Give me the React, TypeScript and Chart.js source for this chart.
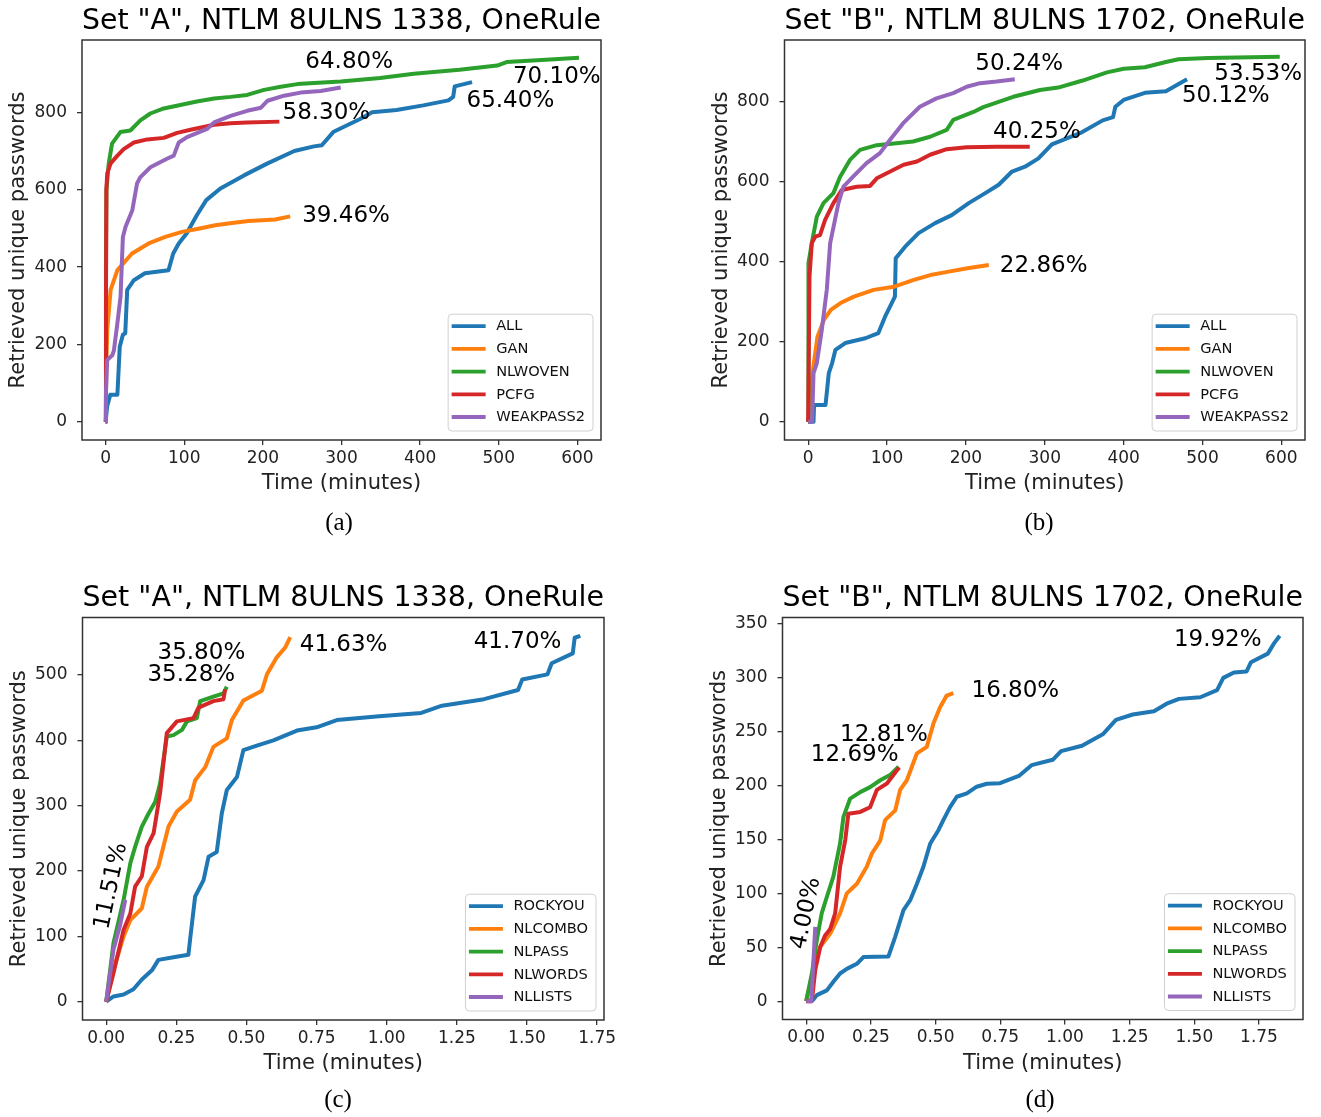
import React, { useEffect, useRef } from "react";
import { Chart, registerables } from "chart.js";

Chart.register(...registerables);

const FONT = "'DejaVu Sans', 'Noto Sans', sans-serif";
const BLUE = "#1f77b4";
const ORANGE = "#ff7f0e";
const GREEN = "#2ca02c";
const RED = "#d62728";
const PURPLE = "#9467bd";

type Pt = [number, number];

// ---------- Panel (a): Set "A", minutes ----------
const A_ALL: Pt[] = [[0,0],[2,40],[6,70],[15,70],[18,194],[22,225],[25,229],[27.5,341],[36,366],[50,384],[80,392],[86,435],[93,461],[103,487],[116,534],[128,573],[146,603],[176,637],[206,668],[240,700],[265,712],[275,715],[290,750],[323,782],[339,800],[370,806],[404,818],[436,831],[442,840],[444,867],[466,878]];
const A_GAN: Pt[] = [[0,0],[1,150],[2.1,237],[6.4,341],[15,392],[33.6,435],[54.7,461],[75.9,478],[97,491],[118,499],[139.5,508],[160.6,514],[181.7,519],[215.6,523],[234.7,531]];
const A_NLWOVEN: Pt[] = [[0,0],[0.5,420],[1.1,600],[4,668],[8.2,719],[18.8,749],[31.5,753],[44.2,779],[56.9,797],[73.9,810],[95,819],[116,828],[138,836],[159,840],[180,845],[201.5,858],[222.7,866],[243.9,873],[265,876],[299,880],[349,889],[392,900],[450,910],[498,921],[510,930],[560,936],[602,941]];
const A_PCFG: Pt[] = [[0,0],[0.5,300],[1,600],[2.1,642],[6.4,668],[15,688],[23,705],[36,722],[53,730],[74,734],[91,747],[108,755],[138,768],[159,772],[180,774],[221,776]];
const A_WEAKPASS2: Pt[] = [[0,0],[0.5,77],[2,160],[8.5,172],[10.6,185],[15,255],[19,323],[22,478],[25.4,504],[34,547],[40,616],[44,632],[57,658],[78,680],[86.7,688],[93,722],[103.6,736],[129,757],[138,774],[159,791],[180,804],[197.6,812],[206,830],[227,843],[248,851],[273.5,855],[299,864]];
const A_LABELS = ["ALL", "GAN", "NLWOVEN", "PCFG", "WEAKPASS2"];
const A_NOTES = [
  { text: "64.80%", x: 254, y: 929 },
  { text: "70.10%", x: 518, y: 890 },
  { text: "65.40%", x: 459, y: 828 },
  { text: "58.30%", x: 225, y: 797 },
  { text: "39.46%", x: 250, y: 532 },
];

// ---------- Panel (b): Set "B", minutes ----------
const B_ALL: Pt[] = [[0,0],[6.8,0],[7.5,42],[22,42],[26.2,122],[30.4,147],[34.6,180],[47,197],[72.5,209],[89,222],[97.5,263],[110,313],[111,409],[123,438],[140,472],[161,497],[182,517],[203.6,547],[224.6,572],[241.6,593],[258.5,626],[275,638],[292,659],[309,694],[347,724],[373.5,754],[386.6,762],[389.5,788],[400,805],[427,823],[453.6,827],[480.4,857]];
const B_GAN: Pt[] = [[0,0],[5.5,122],[11.8,213],[20,255],[28.7,280],[41,297],[58,313],[83,330],[109,338],[134,355],[155,367],[176.6,375],[201.9,384],[229,392]];
const B_NLWOVEN: Pt[] = [[0,0],[0.4,397],[4.6,447],[11,513],[19.4,547],[32,572],[40.5,613],[53,655],[65.8,680],[87,692],[112,697],[133,701],[154.6,713],[175.7,730],[184,755],[209.6,775],[222,787],[260,813],[294,830],[317,836],[347,853],[379,874],[400,883],[427,887],[453.6,900],[469.6,907],[507,910],[598,913]];
const B_PCFG: Pt[] = [[0,0],[1.7,363],[4.6,447],[8.9,463],[15,467],[21.5,505],[32,547],[42.7,580],[61.6,588],[78.5,590],[87,609],[104,626],[121,643],[138,651],[154.6,668],[175.7,682],[201,687],[239,688],[281,688]];
const B_WEAKPASS2: Pt[] = [[0,0],[5,0],[6.8,122],[11,147],[17.3,230],[23.6,330],[27.9,447],[38.4,547],[44.7,588],[57,613],[74,647],[91,672],[103.6,705],[120.5,747],[141.6,788],[162.7,809],[184,822],[201,838],[218,847],[239,851],[262,857]];
const B_NOTES = [
  { text: "50.24%", x: 212, y: 896 },
  { text: "53.53%", x: 515, y: 870 },
  { text: "50.12%", x: 474, y: 815 },
  { text: "40.25%", x: 234.5, y: 724 },
  { text: "22.86%", x: 243, y: 390 },
];

// ---------- Panel (c): Set "A", fractions of a minute ----------
const C_ROCKYOU: Pt[] = [[0,0],[0.026,8],[0.062,11],[0.097,19],[0.127,34],[0.163,48],[0.186,64],[0.24,68],[0.293,72],[0.299,95],[0.317,161],[0.347,186],[0.365,222],[0.394,229],[0.412,288],[0.43,324],[0.466,344],[0.489,385],[0.537,392],[0.596,400],[0.68,415],[0.75,420],[0.822,431],[0.973,437],[1.123,442],[1.197,453],[1.347,463],[1.468,477],[1.483,493],[1.573,501],[1.588,518],[1.663,533],[1.67,557],[1.69,560]];
const C_NLCOMBO: Pt[] = [[0,0],[0.026,49],[0.062,100],[0.086,125],[0.127,143],[0.145,176],[0.186,207],[0.222,268],[0.252,291],[0.299,309],[0.317,339],[0.353,359],[0.382,390],[0.43,403],[0.448,431],[0.489,461],[0.555,476],[0.573,501],[0.608,527],[0.638,542],[0.656,558]];
const C_NLPASS: Pt[] = [[0,0],[0.026,90],[0.062,156],[0.086,212],[0.103,237],[0.127,268],[0.151,288],[0.175,306],[0.192,334],[0.216,406],[0.24,408],[0.27,416],[0.288,429],[0.323,434],[0.335,460],[0.382,467],[0.418,472],[0.43,482]];
const C_NLWORDS: Pt[] = [[0,0],[0.026,44],[0.062,110],[0.086,135],[0.103,176],[0.127,192],[0.145,237],[0.169,258],[0.192,319],[0.216,411],[0.252,429],[0.311,434],[0.329,450],[0.382,460],[0.418,463],[0.424,478]];
const C_NLLISTS: Pt[] = [[0,0],[0.026,80],[0.05,118],[0.068,156]];
const CD_LABELS = ["ROCKYOU", "NLCOMBO", "NLPASS", "NLWORDS", "NLLISTS"];
const C_NOTES = [
  { text: "35.80%", x: 0.183, y: 533 },
  { text: "35.28%", x: 0.147, y: 500 },
  { text: "41.63%", x: 0.69, y: 546 },
  { text: "41.70%", x: 1.31, y: 551 },
  { text: "11.51%", x: 0.018, y: 177, angle: 78 },
];

// ---------- Panel (d): Set "B", fractions of a minute ----------
const D_ROCKYOU: Pt[] = [[0,0],[0.028,1.6],[0.041,5.6],[0.08,10],[0.105,18],[0.131,25.7],[0.157,30],[0.196,34.7],[0.221,40.9],[0.318,41.5],[0.344,59.7],[0.376,84.5],[0.402,93.7],[0.428,109],[0.453,124.7],[0.479,146],[0.511,158.6],[0.53,168],[0.556,180],[0.582,189.7],[0.621,192.8],[0.659,199],[0.698,201.7],[0.749,202.3],[0.822,209],[0.871,219],[0.953,224],[0.985,232],[1.066,237],[1.148,248],[1.197,261],[1.262,266],[1.344,269],[1.393,276],[1.441,280.5],[1.523,282],[1.588,288.6],[1.612,300],[1.653,305],[1.702,306],[1.719,314.5],[1.784,322.5],[1.808,332],[1.83,339]];
const D_NLCOMBO: Pt[] = [[0,0],[0.028,28.8],[0.054,50.4],[0.093,62.8],[0.131,81.4],[0.157,100],[0.196,109],[0.234,124.7],[0.254,137],[0.286,149],[0.305,168],[0.344,177],[0.363,196],[0.389,205],[0.428,230],[0.466,236],[0.492,257.8],[0.518,273],[0.543,283.6],[0.569,285.8]];
const D_NLPASS: Pt[] = [[0,0],[0.022,25.7],[0.041,56.6],[0.06,81.4],[0.08,96.9],[0.105,115.5],[0.131,146.4],[0.144,171],[0.17,188],[0.209,194],[0.247,198.6],[0.286,205],[0.324,209.8],[0.357,217.6]];
const D_NLWORDS: Pt[] = [[0,0],[0.022,0],[0.035,28.8],[0.054,50],[0.073,61],[0.093,67],[0.112,81.4],[0.131,124.7],[0.151,149.5],[0.163,174],[0.209,175.6],[0.247,180],[0.273,196],[0.312,202],[0.35,214],[0.36,216.7]];
const D_NLLISTS: Pt[] = [[0,0],[0.02,0],[0.035,69]];
const D_NOTES = [
  { text: "12.81%", x: 0.131, y: 247 },
  { text: "12.69%", x: 0.018, y: 228 },
  { text: "16.80%", x: 0.639, y: 288 },
  { text: "19.92%", x: 1.421, y: 335 },
  { text: "4.00%", x: 0.0, y: 81.5, angle: 78 },
];

// ---------- ticks ----------
const X_TICKS_MIN = [0, 100, 200, 300, 400, 500, 600];
const X_TICK_LABELS_MIN = ["0", "100", "200", "300", "400", "500", "600"];
const X_TICKS_FRAC = [0, 0.25, 0.5, 0.75, 1.0, 1.25, 1.5, 1.75];
const X_TICK_LABELS_FRAC = ["0.00", "0.25", "0.50", "0.75", "1.00", "1.25", "1.50", "1.75"];
const Y_TICKS_AB = [0, 200, 400, 600, 800];
const Y_TICK_LABELS_AB = ["0", "200", "400", "600", "800"];
const Y_TICKS_C = [0, 100, 200, 300, 400, 500];
const Y_TICK_LABELS_C = ["0", "100", "200", "300", "400", "500"];
const Y_TICKS_D = [0, 50, 100, 150, 200, 250, 300, 350];
const Y_TICK_LABELS_D = ["0", "50", "100", "150", "200", "250", "300", "350"];

const TITLE_A = 'Set "A", NTLM 8ULNS 1338, OneRule';
const TITLE_B = 'Set "B", NTLM 8ULNS 1702, OneRule';
const X_TITLE = "Time (minutes)";
const Y_TITLE = "Retrieved unique passwords";
const COLORS = [BLUE, ORANGE, GREEN, RED, PURPLE];

interface Note { text: string; x: number; y: number; angle?: number }
interface Panel {
  title: string;
  labels: string[];
  series: Pt[][];
  notes: Note[];
  xRange: [number, number];
  yRange: [number, number];
  xTicks: number[];
  xTickLabels: string[];
  yTicks: number[];
  yTickLabels: string[];
  box: { x: number; y: number; w: number; h: number };
  area: { l: number; r: number; t: number; b: number };
  caption: string;
  cap: { x: number; y: number };
}

const PANELS: Panel[] = [
  {
    title: TITLE_A, labels: A_LABELS, series: [A_ALL, A_GAN, A_NLWOVEN, A_PCFG, A_WEAKPASS2], notes: A_NOTES,
    xRange: [-30, 630], yRange: [-47, 987],
    xTicks: X_TICKS_MIN, xTickLabels: X_TICK_LABELS_MIN, yTicks: Y_TICKS_AB, yTickLabels: Y_TICK_LABELS_AB,
    box: { x: 0, y: 0, w: 660, h: 510 }, area: { l: 82, r: 601, t: 40, b: 440 },
    caption: "(a)", cap: { x: 339, y: 521 },
  },
  {
    title: TITLE_B, labels: A_LABELS, series: [B_ALL, B_GAN, B_NLWOVEN, B_PCFG, B_WEAKPASS2], notes: B_NOTES,
    xRange: [-30, 630], yRange: [-45.5, 955],
    xTicks: X_TICKS_MIN, xTickLabels: X_TICK_LABELS_MIN, yTicks: Y_TICKS_AB, yTickLabels: Y_TICK_LABELS_AB,
    box: { x: 660, y: 0, w: 661, h: 510 }, area: { l: 784.5, r: 1305, t: 40, b: 440 },
    caption: "(b)", cap: { x: 1039, y: 521 },
  },
  {
    title: TITLE_A, labels: CD_LABELS, series: [C_ROCKYOU, C_NLCOMBO, C_NLPASS, C_NLWORDS, C_NLLISTS], notes: C_NOTES,
    xRange: [-0.0845, 1.7745], yRange: [-28, 588],
    xTicks: X_TICKS_FRAC, xTickLabels: X_TICK_LABELS_FRAC, yTicks: Y_TICKS_C, yTickLabels: Y_TICK_LABELS_C,
    box: { x: 0, y: 575, w: 660, h: 510 }, area: { l: 82.5, r: 604, t: 617.5, b: 1020 },
    caption: "(c)", cap: { x: 338, y: 1098 },
  },
  {
    title: TITLE_B, labels: CD_LABELS, series: [D_ROCKYOU, D_NLCOMBO, D_NLPASS, D_NLWORDS, D_NLLISTS], notes: D_NOTES,
    xRange: [-0.0915, 1.92], yRange: [-17, 356],
    xTicks: X_TICKS_FRAC, xTickLabels: X_TICK_LABELS_FRAC, yTicks: Y_TICKS_D, yTickLabels: Y_TICK_LABELS_D,
    box: { x: 660, y: 575, w: 661, h: 510 }, area: { l: 782.5, r: 1303, t: 617.5, b: 1019.5 },
    caption: "(d)", cap: { x: 1040, y: 1098 },
  },
];

const Y_W = 78;
const X_H = 60;
const TITLE_H = 40;

function buildConfig(p: Panel): any {
  const pad = {
    left: p.area.l - p.box.x - Y_W,
    right: p.box.x + p.box.w - p.area.r,
    top: p.area.t - p.box.y - TITLE_H,
    bottom: p.box.y + p.box.h - p.area.b - X_H,
  };
  const n = p.series.length;
  const datasets = p.series.map((pts, i) => ({
    label: p.labels[i],
    data: pts.map(([x, y]) => ({ x, y })),
    borderColor: COLORS[i],
    backgroundColor: COLORS[i],
    borderWidth: 4,
    pointRadius: 0,
    pointHoverRadius: 0,
    tension: 0,
    fill: false,
    order: n - i,
    borderJoinStyle: "round",
    borderCapStyle: "butt",
  }));

  const overlay = {
    id: "overlay",
    afterDatasetsDraw(chart: any) {
      const { ctx, chartArea: a } = chart;
      const xs = chart.scales.x;
      const ys = chart.scales.y;
      ctx.save();
      // frame
      ctx.strokeStyle = "#333";
      ctx.lineWidth = 1.5;
      ctx.strokeRect(a.left, a.top, a.right - a.left, a.bottom - a.top);
      // annotations
      ctx.fillStyle = "#000";
      ctx.font = `23px ${FONT}`;
      ctx.textBaseline = "middle";
      for (const nt of p.notes) {
        const px = xs.getPixelForValue(nt.x);
        const py = ys.getPixelForValue(nt.y);
        if (nt.angle) {
          ctx.save();
          ctx.translate(px, py);
          ctx.rotate((-nt.angle * Math.PI) / 180);
          ctx.textAlign = "center";
          ctx.fillText(nt.text, 0, 0);
          ctx.restore();
        } else {
          ctx.textAlign = "left";
          ctx.fillText(nt.text, px, py);
        }
      }
      // legend
      ctx.font = `14.6px ${FONT}`;
      let tw = 0;
      for (const l of p.labels) tw = Math.max(tw, ctx.measureText(l).width);
      const w = 3.5 + 34 + 10.5 + tw + 8;
      const rowH = 22.7;
      const h = 12 + rowH * (p.labels.length - 1) + 14;
      const lx = a.right - 8 - w;
      const ly = a.bottom - 9 - h;
      ctx.beginPath();
      if (ctx.roundRect) ctx.roundRect(lx, ly, w, h, 4);
      else ctx.rect(lx, ly, w, h);
      ctx.fillStyle = "rgba(255,255,255,0.8)";
      ctx.fill();
      ctx.strokeStyle = "#d0d0d0";
      ctx.lineWidth = 1;
      ctx.stroke();
      p.labels.forEach((l, i) => {
        const cy = ly + 12 + i * rowH;
        ctx.beginPath();
        ctx.moveTo(lx + 3.5, cy);
        ctx.lineTo(lx + 37.5, cy);
        ctx.strokeStyle = COLORS[i];
        ctx.lineWidth = 3.8;
        ctx.stroke();
        ctx.fillStyle = "#111";
        ctx.textAlign = "left";
        ctx.textBaseline = "middle";
        ctx.fillText(l, lx + 48, cy + 0.5);
      });
      ctx.restore();
    },
  };

  const tickFont = { family: FONT, size: 17 };
  const gridOpts = {
    display: true,
    drawOnChartArea: false,
    drawTicks: true,
    tickLength: 5,
    color: "#333",
    lineWidth: 1.3,
  };

  return {
    type: "line",
    data: { datasets },
    plugins: [overlay],
    options: {
      animation: false,
      responsive: false,
      maintainAspectRatio: false,
      devicePixelRatio: 1,
      events: [],
      layout: { padding: pad },
      plugins: {
        legend: { display: false },
        tooltip: { enabled: false },
        title: {
          display: true,
          text: p.title,
          color: "#000",
          fullSize: false,
          font: { family: FONT, size: 28.5, weight: "normal", lineHeight: 1.2 },
          padding: { top: 4, bottom: 1.8 },
        },
      },
      scales: {
        x: {
          type: "linear",
          min: p.xRange[0],
          max: p.xRange[1],
          afterBuildTicks: (axis: any) => {
            axis.ticks = p.xTicks.map((v) => ({ value: v }));
          },
          afterFit: (axis: any) => {
            axis.height = X_H;
          },
          ticks: {
            color: "#222",
            font: tickFont,
            padding: 3,
            autoSkip: false,
            maxRotation: 0,
            minRotation: 0,
            callback: (_v: any, i: number) => p.xTickLabels[i],
          },
          grid: gridOpts,
          border: { display: false },
          title: {
            display: true,
            text: X_TITLE,
            color: "#222",
            font: { family: FONT, size: 21, lineHeight: 1.2 },
            padding: { top: 0, bottom: 3.4 },
          },
        },
        y: {
          type: "linear",
          min: p.yRange[0],
          max: p.yRange[1],
          afterBuildTicks: (axis: any) => {
            axis.ticks = p.yTicks.map((v) => ({ value: v }));
          },
          afterFit: (axis: any) => {
            axis.width = Y_W;
          },
          ticks: {
            color: "#222",
            font: tickFont,
            padding: 10,
            autoSkip: false,
            callback: (_v: any, i: number) => p.yTickLabels[i],
          },
          grid: gridOpts,
          border: { display: false },
          title: {
            display: true,
            text: Y_TITLE,
            color: "#222",
            font: { family: FONT, size: 21, lineHeight: 1.2 },
            padding: { top: 2, bottom: 0 },
          },
        },
      },
    },
  };
}

function PanelChart({ panel }: { panel: Panel }) {
  const ref = useRef<HTMLCanvasElement | null>(null);
  useEffect(() => {
    if (!ref.current) return;
    const chart = new Chart(ref.current, buildConfig(panel));
    return () => chart.destroy();
  }, [panel]);
  return (
    <canvas
      ref={ref}
      width={panel.box.w}
      height={panel.box.h}
      style={{
        position: "absolute",
        left: panel.box.x,
        top: panel.box.y,
        width: panel.box.w,
        height: panel.box.h,
      }}
    />
  );
}

export default function App() {
  return (
    <div
      style={{
        position: "absolute",
        left: 0,
        top: 0,
        width: 1321,
        height: 1117,
        background: "#fff",
        overflow: "hidden",
      }}
    >
      {PANELS.map((p, i) => (
        <PanelChart key={i} panel={p} />
      ))}
      {PANELS.map((p, i) => (
        <div
          key={"cap" + i}
          style={{
            position: "absolute",
            left: p.cap.x,
            top: p.cap.y,
            transform: "translate(-50%, -50%)",
            fontFamily: "'Liberation Serif', 'DejaVu Serif', serif",
            fontSize: 25,
            color: "#000",
            lineHeight: 1,
            whiteSpace: "nowrap",
          }}
        >
          {p.caption}
        </div>
      ))}
    </div>
  );
}
